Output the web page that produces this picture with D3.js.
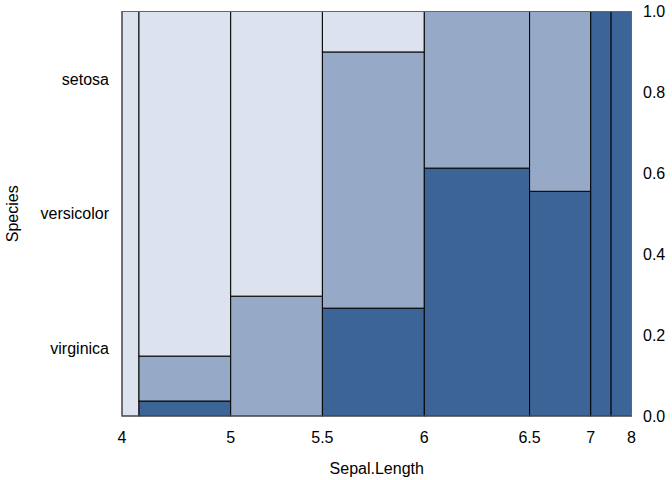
<!DOCTYPE html>
<html><head><meta charset="utf-8">
<script src="https://cdn.jsdelivr.net/npm/d3@7"></script>
<style>body{margin:0;background:#fff}text{font-family:"Liberation Sans",Arial,sans-serif;font-size:16px;fill:#000}</style>
</head><body>
<svg id="c" width="672" height="480"></svg>
<script>
// Spineplot of Species vs Sepal.Length (iris)
const breaks = [4, 4.5, 5, 5.5, 6, 6.5, 7, 7.5, 8];
const species = ["virginica", "versicolor", "setosa"]; // bottom to top
const virginica  = [0, 1, 0, 8, 19, 10, 6, 6];
const versicolor = [0, 3, 8, 19, 12, 8, 0, 0];
const setosa     = [5, 23, 19, 3, 0, 0, 0, 0];
const colors = ["#3c6496", "#96aac7", "#dce2ee"];
const yTicks = [0, 0.2, 0.4, 0.6, 0.8, 1.0];

const counts = [virginica, versicolor, setosa];
const totals = breaks.slice(1).map((_, i) => counts.reduce((s, c) => s + c[i], 0));
const N = d3.sum(totals);
const cum = [0]; totals.forEach(t => cum.push(cum[cum.length - 1] + t));

const L = 122, R = 631.5, T = 11.5, B = 416;
const x = d3.scaleLinear().domain([0, N]).range([L, R]);
const y = d3.scaleLinear().domain([0, 1]).range([B, T]);
const svg = d3.select("#c");

const rects = [];
totals.forEach((t, i) => {
  let acc = 0;
  counts.forEach((c, k) => {
    const p = c[i] / t;
    rects.push({x0: cum[i], x1: cum[i + 1], y0: acc, y1: acc + p, k});
    acc += p;
  });
});
svg.append("g").selectAll("rect").data(rects.filter(d => d.y1 > d.y0)).join("rect")
  .attr("x", d => x(d.x0)).attr("width", d => x(d.x1) - x(d.x0))
  .attr("y", d => y(d.y1)).attr("height", d => y(d.y0) - y(d.y1))
  .attr("fill", d => colors[d.k]).attr("stroke", "#000").attr("stroke-width", 1);
svg.append("rect").attr("x", L).attr("y", T).attr("width", R - L).attr("height", B - T)
  .attr("fill", "none").attr("stroke", "#666").attr("stroke-width", 1);

// x labels with overlap dropping
const xl = svg.append("g");
let lastRight = -Infinity;
breaks.forEach((b, i) => {
  const px = x(cum[i]);
  const t = xl.append("text").attr("x", px).attr("y", 443).attr("text-anchor", "middle").text(String(b));
  const w = t.node().getComputedTextLength();
  if (px - w / 2 < lastRight + 6) t.remove(); else lastRight = px + w / 2;
});

// left species labels at marginal midpoints
const marg = counts.map(c => d3.sum(c) / N);
let acc = 0;
species.forEach((s, k) => {
  const mid = acc + marg[k] / 2; acc += marg[k];
  svg.append("text").attr("x", 109).attr("y", y(mid)).attr("dy", "0.35em").attr("text-anchor", "end").text(s);
});

// right axis
svg.append("g").selectAll("text").data(yTicks).join("text")
  .attr("x", 643).attr("y", d => y(d)).attr("dy", "0.35em").text(d => d.toFixed(1));

svg.append("text").attr("x", (L + R) / 2).attr("y", 474).attr("text-anchor", "middle").text("Sepal.Length");
svg.append("text").attr("transform", `translate(18,${(T + B) / 2}) rotate(-90)`).attr("text-anchor", "middle").text("Species");
</script>
</body></html>
